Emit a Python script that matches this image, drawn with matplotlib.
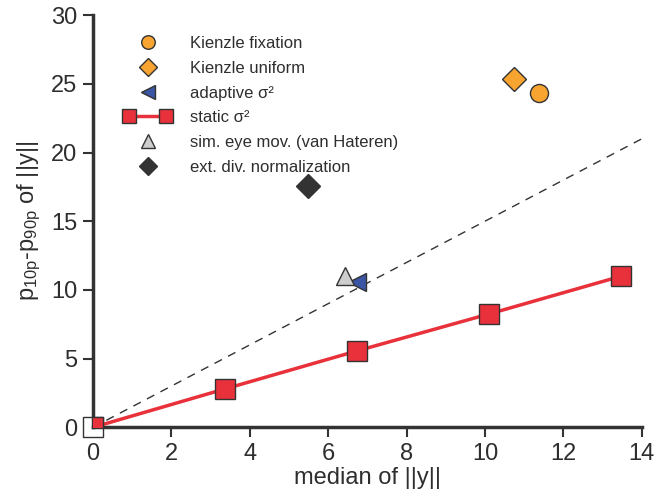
import matplotlib
matplotlib.use('Agg')
import matplotlib.pyplot as plt
from matplotlib.legend_handler import HandlerLine2D

plt.rcParams['font.family'] = ['Liberation Sans', 'DejaVu Sans']
plt.rcParams['mathtext.default'] = 'regular'

# 1 - data

static_x = [0, 3.37, 6.73, 10.1, 13.47]
static_y = [0, 2.8, 5.56, 8.25, 11.0]

kienzle_fix_x, kienzle_fix_y = [11.38], [24.3]
kienzle_uni_x, kienzle_uni_y = [10.74], [25.35]
adaptive_x, adaptive_y = [6.73], [10.6]
eye_x, eye_y = [6.43], [11.05]
extdiv_x, extdiv_y = [5.48], [17.6]

diag_x = [0, 14]
diag_y = [0, 21]

xticks = [0, 2, 4, 6, 8, 10, 12, 14]
yticks = [0, 5, 10, 15, 20, 25, 30]

# 2 - colours

orange = '#F8A431'
blue = '#3A55A4'
red = '#E8313A'
grey = '#CDCDCD'
dark = '#333333'
txt = '#2e2e2e'

fig = plt.figure(figsize=(6.63, 5.04), dpi=100)
ax = fig.add_axes([0.140, 0.152, 0.828, 0.818])

ax.plot(diag_x, diag_y, ls=(0, (6, 5)), color=dark, lw=1.0, zorder=1)

# white square at origin drawn over the spines, red square clipped inside
ax.plot([0], [0], 's', ms=14, mfc='white', mec=dark, mew=1.0,
        clip_on=False, zorder=2)
static_line, = ax.plot(static_x, static_y, '-s', color=red, lw=2.5, ms=14,
                       mfc=red, mec=dark, mew=1.0, zorder=3,
                       label='static σ²')

ax.plot(eye_x, eye_y, '^', ms=13, mfc=grey, mec=dark, mew=1.0,
        ls='none', zorder=4, label='sim. eye mov. (van Hateren)')
ax.plot(adaptive_x, adaptive_y, '<', ms=13, mfc=blue, mec=dark, mew=1.0,
        ls='none', zorder=3, label='adaptive σ²')
ax.plot(kienzle_fix_x, kienzle_fix_y, 'o', ms=13, mfc=orange, mec=dark,
        mew=1.0, ls='none', zorder=4, label='Kienzle fixation')
ax.plot(kienzle_uni_x, kienzle_uni_y, 'D', ms=12, mfc=orange, mec=dark,
        mew=1.0, ls='none', zorder=4, label='Kienzle uniform')
ax.plot(extdiv_x, extdiv_y, 'D', ms=12, mfc=dark, mec=dark, mew=1.0,
        ls='none', zorder=4, label='ext. div. normalization')

ax.set_xlim(0, 14)
ax.set_ylim(0, 30)
ax.set_xticks(xticks)
ax.set_yticks(yticks)

for s in ['top', 'right']:
    ax.spines[s].set_visible(False)
for s in ['left', 'bottom']:
    ax.spines[s].set_linewidth(2.5)
    ax.spines[s].set_color(dark)
ax.tick_params(direction='out', length=7, width=1.5, color=dark,
               labelsize=17, labelcolor=txt, pad=4)

ax.set_xlabel('median of ||y||', fontsize=17, color=txt, labelpad=2)
ax.set_ylabel('p$_{10p}$-p$_{90p}$ of ||y||', fontsize=17, color=txt,
              labelpad=6)

# 3 - legend in the order of the figure

handles, labels = ax.get_legend_handles_labels()
order = ['Kienzle fixation', 'Kienzle uniform', 'adaptive σ²',
         'static σ²', 'sim. eye mov. (van Hateren)',
         'ext. div. normalization']
h = [handles[labels.index(o)] for o in order]
leg = ax.legend(h, order, loc='upper left', bbox_to_anchor=(0.03, 0.985),
                frameon=False, fontsize=12, handlelength=2.8,
                labelspacing=0.58, handletextpad=1.13, markerscale=0.75,
                handler_map={static_line: HandlerLine2D(numpoints=2)})
for t in leg.get_texts():
    t.set_color(txt)

plt.savefig('out.png', dpi=100)
